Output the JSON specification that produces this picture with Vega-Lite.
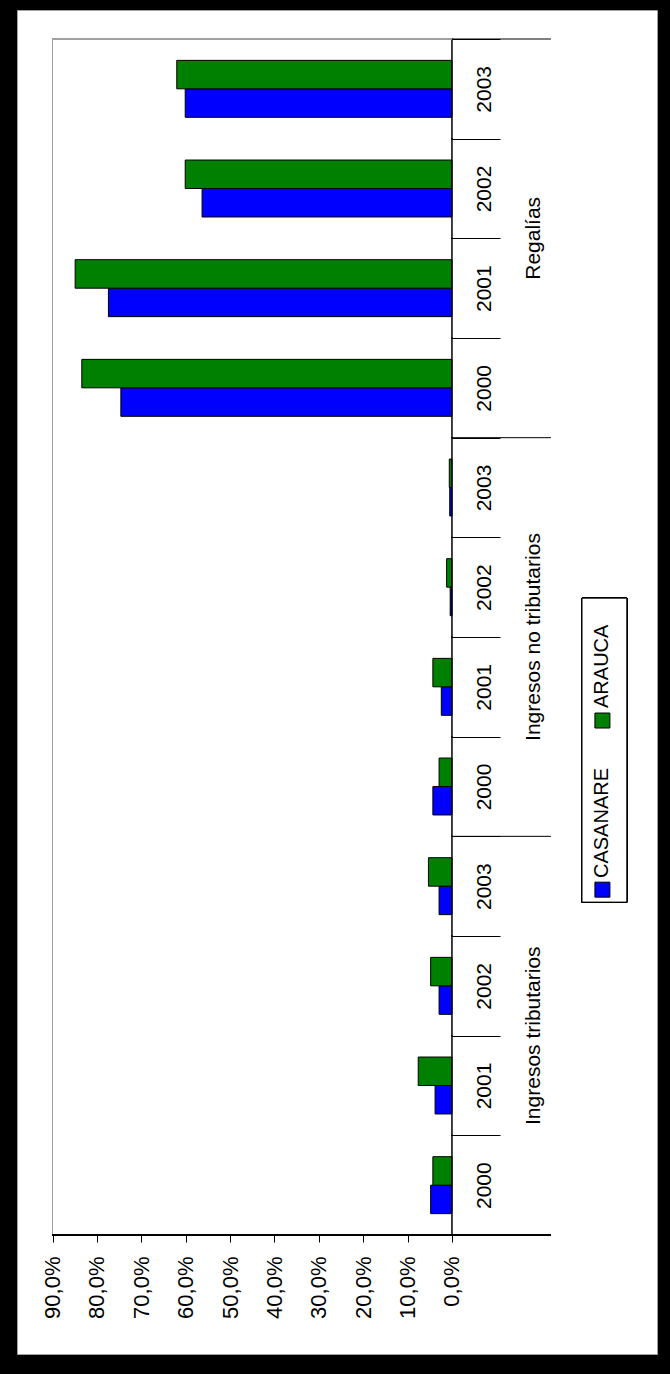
{
  "$schema": "https://vega.github.io/schema/vega-lite/v6.json",
  "width": 640,
  "height": 1344,
  "autosize": {"type": "none"},
  "padding": {"left": 17, "top": 10, "right": 13, "bottom": 20},
  "background": "#000000",
  "config": {"view": {"fill": "#ffffff", "stroke": "#a0a0a0", "strokeWidth": 1}, "font": "Liberation Sans"},
  "datasets": {
    "main": [
      {"group": "Ingresos tributarios", "year": "2000", "cat": "Ingresos tributarios|2000", "series": "CASANARE", "value": 4.8},
      {"group": "Ingresos tributarios", "year": "2000", "cat": "Ingresos tributarios|2000", "series": "ARAUCA", "value": 4.3},
      {"group": "Ingresos tributarios", "year": "2001", "cat": "Ingresos tributarios|2001", "series": "CASANARE", "value": 3.8},
      {"group": "Ingresos tributarios", "year": "2001", "cat": "Ingresos tributarios|2001", "series": "ARAUCA", "value": 7.6},
      {"group": "Ingresos tributarios", "year": "2002", "cat": "Ingresos tributarios|2002", "series": "CASANARE", "value": 2.9},
      {"group": "Ingresos tributarios", "year": "2002", "cat": "Ingresos tributarios|2002", "series": "ARAUCA", "value": 4.8},
      {"group": "Ingresos tributarios", "year": "2003", "cat": "Ingresos tributarios|2003", "series": "CASANARE", "value": 2.9},
      {"group": "Ingresos tributarios", "year": "2003", "cat": "Ingresos tributarios|2003", "series": "ARAUCA", "value": 5.3},
      {"group": "Ingresos no tributarios", "year": "2000", "cat": "Ingresos no tributarios|2000", "series": "CASANARE", "value": 4.3},
      {"group": "Ingresos no tributarios", "year": "2000", "cat": "Ingresos no tributarios|2000", "series": "ARAUCA", "value": 2.9},
      {"group": "Ingresos no tributarios", "year": "2001", "cat": "Ingresos no tributarios|2001", "series": "CASANARE", "value": 2.4},
      {"group": "Ingresos no tributarios", "year": "2001", "cat": "Ingresos no tributarios|2001", "series": "ARAUCA", "value": 4.3},
      {"group": "Ingresos no tributarios", "year": "2002", "cat": "Ingresos no tributarios|2002", "series": "CASANARE", "value": 0.4},
      {"group": "Ingresos no tributarios", "year": "2002", "cat": "Ingresos no tributarios|2002", "series": "ARAUCA", "value": 1.2},
      {"group": "Ingresos no tributarios", "year": "2003", "cat": "Ingresos no tributarios|2003", "series": "CASANARE", "value": 0.5},
      {"group": "Ingresos no tributarios", "year": "2003", "cat": "Ingresos no tributarios|2003", "series": "ARAUCA", "value": 0.6},
      {"group": "Regalías", "year": "2000", "cat": "Regalías|2000", "series": "CASANARE", "value": 74.6},
      {"group": "Regalías", "year": "2000", "cat": "Regalías|2000", "series": "ARAUCA", "value": 83.4},
      {"group": "Regalías", "year": "2001", "cat": "Regalías|2001", "series": "CASANARE", "value": 77.4},
      {"group": "Regalías", "year": "2001", "cat": "Regalías|2001", "series": "ARAUCA", "value": 84.9},
      {"group": "Regalías", "year": "2002", "cat": "Regalías|2002", "series": "CASANARE", "value": 56.3},
      {"group": "Regalías", "year": "2002", "cat": "Regalías|2002", "series": "ARAUCA", "value": 60.1},
      {"group": "Regalías", "year": "2003", "cat": "Regalías|2003", "series": "CASANARE", "value": 60.1},
      {"group": "Regalías", "year": "2003", "cat": "Regalías|2003", "series": "ARAUCA", "value": 62.0}
    ]
  },
  "data": {"name": "main"},
  "layer": [
    {
      "mark": {"type": "bar", "stroke": "#000000", "strokeWidth": 1, "opacity": 1},
      "encoding": {
        "y": {
          "field": "cat", "type": "nominal",
          "scale": {
            "domain": ["Regalías|2003", "Regalías|2002", "Regalías|2001", "Regalías|2000",
                       "Ingresos no tributarios|2003", "Ingresos no tributarios|2002", "Ingresos no tributarios|2001", "Ingresos no tributarios|2000",
                       "Ingresos tributarios|2003", "Ingresos tributarios|2002", "Ingresos tributarios|2001", "Ingresos tributarios|2000"],
            "paddingInner": 0, "paddingOuter": 0.7425, "align": 0.196
          },
          "axis": {
            "orient": "right", "offset": -205, "domain": false, "grid": false,
            "tickBand": "extent", "tickSize": 48, "tickColor": "#000000", "tickWidth": 1,
            "labelAngle": -90, "labelAlign": "center", "labelBaseline": "middle", "labelPadding": -16,
            "labelExpr": "split(datum.value, '|')[1]", "labelFontSize": 21, "labelColor": "#000000",
            "title": null
          }
        },
        "yOffset": {"field": "series", "type": "nominal", "scale": {"domain": ["ARAUCA", "CASANARE"], "paddingInner": 0, "paddingOuter": 0.75}},
        "x": {
          "field": "value", "type": "quantitative",
          "scale": {"domain": [-46.2, 98], "reverse": true, "nice": false, "zero": false},
          "axis": {
            "orient": "bottom", "offset": -119, "values": [0, 10, 20, 30, 40, 50, 60, 70, 80, 90],
            "domain": false, "grid": false, "tickSize": 7, "tickColor": "#000000",
            "labelAngle": -90, "labelAlign": "right", "labelBaseline": "middle", "labelPadding": 14,
            "labelExpr": "replace(format(datum.value, '.1f'), '.', ',') + '%'",
            "labelFontSize": 22, "labelColor": "#000000", "title": null
          }
        },
        "x2": {"datum": 0},
        "color": {"field": "series", "type": "nominal", "scale": {"domain": ["CASANARE", "ARAUCA"], "range": ["#0000ff", "#008000"]}, "legend": null}
      }
    },
    {
      "mark": {"type": "tick", "color": "#000000", "size": 101, "thickness": 1, "opacity": 1, "orient": "vertical"},
      "encoding": {"x": {"datum": 0}, "y": {"field": "cat", "type": "nominal"}}
    },
    {
      "mark": {"type": "tick", "color": "#a0a0a0", "size": 101, "thickness": 1, "opacity": 1, "orient": "vertical"},
      "encoding": {"x": {"datum": 90}, "y": {"field": "cat", "type": "nominal"}}
    },
    {
      "mark": {"type": "rule", "color": "#a0a0a0", "strokeWidth": 1},
      "encoding": {"y": {"datum": "Regalías|2003", "bandPosition": 0}, "x": {"datum": 90}, "x2": {"datum": 0}}
    },
    {
      "transform": [{"filter": "datum.year == '2003' && datum.series == 'CASANARE'"}],
      "mark": {"type": "rule", "color": "#000000", "strokeWidth": 1},
      "encoding": {"y": {"field": "cat", "type": "nominal", "bandPosition": 0}, "x": {"datum": 0}, "x2": {"datum": -22.3}}
    },
    {
      "mark": {"type": "rule", "color": "#000000", "strokeWidth": 1},
      "encoding": {"y": {"datum": "Ingresos tributarios|2000", "bandPosition": 1}, "x": {"datum": 90}, "x2": {"datum": -22.3}}
    },
    {
      "transform": [{"filter": "datum.year == '2001' && datum.series == 'CASANARE'"}],
      "mark": {"type": "text", "angle": 270, "align": "center", "baseline": "middle", "fontSize": 21, "color": "#000000"},
      "encoding": {"y": {"field": "cat", "type": "nominal", "bandPosition": 0}, "x": {"datum": -18.5}, "text": {"field": "group"}}
    },
    {
      "mark": {"type": "rect", "fill": "#ffffff", "stroke": "#000000", "strokeWidth": 1},
      "encoding": {
        "x": {"datum": -29.3}, "x2": {"datum": -39.4},
        "y": {"datum": "Ingresos no tributarios|2002", "bandPosition": 0.61},
        "y2": {"datum": "Ingresos tributarios|2003", "bandPosition": 0.66}
      }
    },
    {
      "data": {"values": [{"series": "CASANARE"}]},
      "mark": {"type": "square", "size": 225, "filled": true, "opacity": 1, "stroke": "#000000", "strokeWidth": 1},
      "encoding": {"x": {"datum": -33.9}, "y": {"datum": "Ingresos tributarios|2003", "bandPosition": 0.535}, "color": {"field": "series", "type": "nominal"}}
    },
    {
      "data": {"values": [{"series": "ARAUCA"}]},
      "mark": {"type": "square", "size": 225, "filled": true, "opacity": 1, "stroke": "#000000", "strokeWidth": 1},
      "encoding": {"x": {"datum": -33.9}, "y": {"datum": "Ingresos no tributarios|2001", "bandPosition": 0.838}, "color": {"field": "series", "type": "nominal"}}
    },
    {
      "data": {"values": [{"series": "CASANARE"}]},
      "mark": {"type": "text", "angle": 270, "align": "left", "baseline": "middle", "fontSize": 20, "color": "#000000"},
      "encoding": {"x": {"datum": -33.7}, "y": {"datum": "Ingresos tributarios|2003", "bandPosition": 0.418}, "text": {"field": "series"}}
    },
    {
      "data": {"values": [{"series": "ARAUCA"}]},
      "mark": {"type": "text", "angle": 270, "align": "left", "baseline": "middle", "fontSize": 20, "color": "#000000"},
      "encoding": {"x": {"datum": -33.7}, "y": {"datum": "Ingresos no tributarios|2001", "bandPosition": 0.712}, "text": {"field": "series"}}
    }
  ]
}
